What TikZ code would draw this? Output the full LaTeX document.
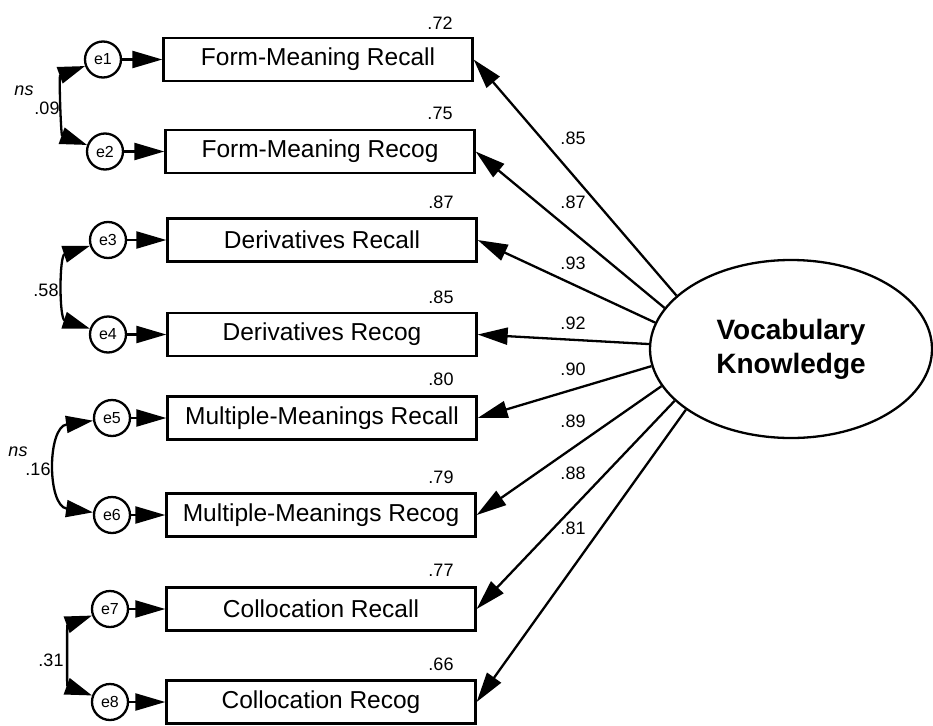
\documentclass[tikz,border=0pt]{standalone}
\usepackage{fontspec}
\setmainfont{Liberation Sans}
\usetikzlibrary{shapes.geometric,arrows.meta}
\begin{document}
\begin{tikzpicture}[x=1pt,y=1pt]
\tikzset{
 box/.style={draw, line width=2.3pt, minimum width=309pt, minimum height=43pt, inner sep=0pt, font=\fontsize{24.5}{28}\selectfont},
 err/.style={draw, circle, line width=2.3pt, minimum size=36pt, inner sep=0pt, font=\fontsize{16}{18}\selectfont},
 num/.style={inner sep=0pt, font=\fontsize{18}{20}\selectfont},
 nsl/.style={inner sep=0pt, font=\itshape\fontsize{18}{20}\selectfont},
 latent/.style={draw, ellipse, line width=2.3pt, minimum width=282pt, minimum height=178pt, inner sep=0pt, align=center, font=\bfseries\fontsize{28}{34}\selectfont},
 arr/.style={line width=2.3pt, -{Triangle[length=30pt,width=17pt]}},
 cov/.style={line width=2.3pt, {Triangle[length=27pt,width=17pt]}-{Triangle[length=27pt,width=17pt]}},
}
\useasboundingbox (0,0) rectangle (933,-725);

% observed variables
\node[box] (b1) at (318,-59.5) {Form-Meaning Recall};
\node[box] (b2) at (320,-151.5) {Form-Meaning Recog};
\node[box] (b3) at (322,-240) {Derivatives Recall};
\node[box] (b4) at (322,-334.5) {Derivatives Recog};
\node[box] (b5) at (322,-418) {Multiple-Meanings Recall};
\node[box] (b6) at (321,-515) {Multiple-Meanings Recog};
\node[box] (b7) at (321,-609) {Collocation Recall};
\node[box] (b8) at (321,-702) {Collocation Recog};

% error terms
\node[err] (e1) at (103,-59.5) {e1};
\node[err] (e2) at (105,-151.5) {e2};
\node[err] (e3) at (108,-240) {e3};
\node[err] (e4) at (108,-334.5) {e4};
\node[err] (e5) at (112,-418) {e5};
\node[err] (e6) at (112,-515) {e6};
\node[err] (e7) at (110,-609) {e7};
\node[err] (e8) at (110,-702) {e8};

% latent variable
\node[latent] (vk) at (791,-349) {Vocabulary\\Knowledge};

% error arrows
\draw[arr] (e1) -- (b1);
\draw[arr] (e2) -- (b2);
\draw[arr] (e3) -- (b3);
\draw[arr] (e4) -- (b4);
\draw[arr] (e5) -- (b5);
\draw[arr] (e6) -- (b6);
\draw[arr] (e7) -- (b7);
\draw[arr] (e8) -- (b8);

% loadings
\draw[arr] (vk.155.9) -- (b1.east);
\draw[arr] (vk.162) -- (b2.east);
\draw[arr] (vk.169.2) -- (b3.east);
\draw[arr] (vk.178.8) -- (b4.east);
\draw[arr] (vk.187.4) -- (b5.east);
\draw[arr] (vk.196.4) -- (b6.east);
\draw[arr] (vk.204.6) -- (b7.east);
\draw[arr] (vk.210.3) -- (b8.east);

% covariances
\draw[cov] (e1) to[out=200,in=160,looseness=0.9] (e2);
\draw[cov] (e3) to[out=198,in=162,looseness=1.0] (e4);
\draw[cov] (e5) to[out=188,in=172,looseness=1.3] (e6);
\draw[cov] (e7) to[out=200,in=160,looseness=0.85] (e8);

% covariance labels
\node[nsl] (ns1) at (24,-91) {ns};
\node[num] (c1) at (47,-108) {.09};
\node[num] (c2) at (46,-290) {.58};
\node[nsl] (ns2) at (18,-452) {ns};
\node[num] (c3) at (38,-469) {.16};
\node[num] (c4) at (51,-660) {.31};

% squared multiple correlations
\node[num] (r1) at (440,-23) {.72};
\node[num] (r2) at (440,-113) {.75};
\node[num] (r3) at (441,-202) {.87};
\node[num] (r4) at (441,-297) {.85};
\node[num] (r5) at (441,-379) {.80};
\node[num] (r6) at (441,-477) {.79};
\node[num] (r7) at (441,-570) {.77};
\node[num] (r8) at (441,-664) {.66};

% loading labels
\node[num] (l1) at (573,-138) {.85};
\node[num] (l2) at (573,-202) {.87};
\node[num] (l3) at (573,-263) {.93};
\node[num] (l4) at (573,-323) {.92};
\node[num] (l5) at (573,-369) {.90};
\node[num] (l6) at (573,-421) {.89};
\node[num] (l7) at (573,-473) {.88};
\node[num] (l8) at (573,-528) {.81};
\end{tikzpicture}
\end{document}
